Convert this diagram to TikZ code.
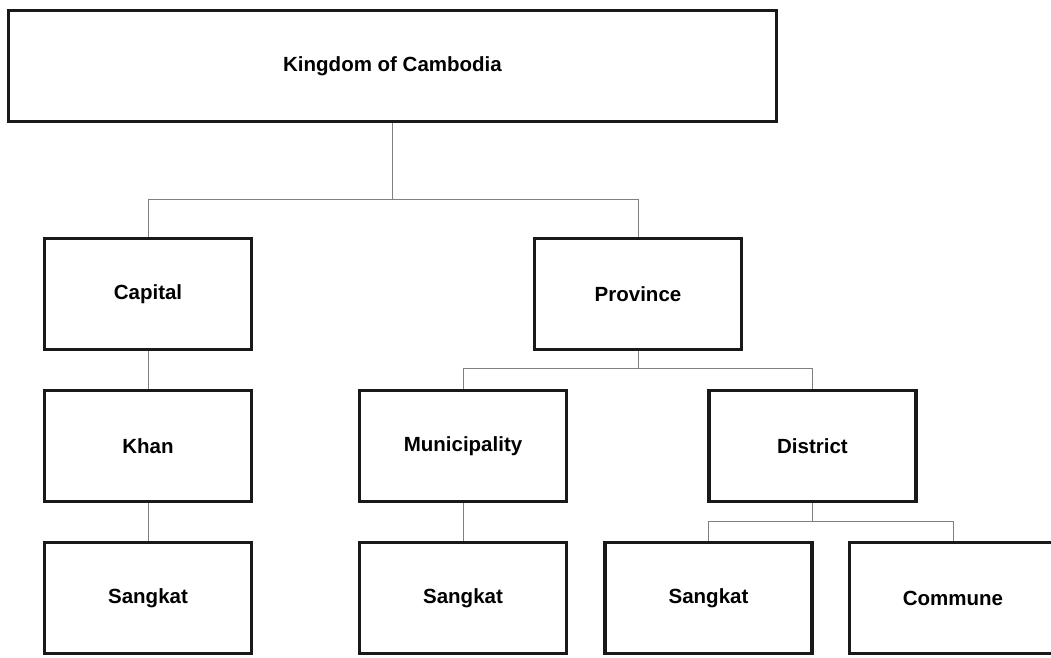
\documentclass[tikz,border=0pt]{standalone}
\usepackage{fontspec}
\setmainfont{Liberation Sans}
\usepackage{tikz}

\begin{document}
\begin{tikzpicture}[x=1pt, y=-1pt,
    unitbox/.style={draw=black!90, line width=3.4pt, minimum width=207pt,
      minimum height=111pt, inner sep=0pt, font=\bfseries\fontsize{20.5}{24}\selectfont},
    link/.style={draw=black!50, line width=1pt}]
  \fill[white] (0,0) rectangle (1051,657);
  \useasboundingbox (0,0) rectangle (1051,657);
  \clip (0,0) rectangle (1051,657);

  \node[unitbox, minimum width=768pt] (kingdom) at (392.5,66) {Kingdom of Cambodia};

  \node[unitbox] (capital)  at (148,294)   {Capital};
  \node[unitbox] (province) at (638,294)   {Province};

  \node[unitbox] (khan)     at (148,446)   {Khan};
  \node[unitbox] (muni)     at (463,446)   {Municipality};
  \node[unitbox] (district) at (812.5,446) {District};

  \node[unitbox] (sangkatA) at (148,598)   {Sangkat};
  \node[unitbox] (sangkatB) at (463,598)   {Sangkat};
  \node[unitbox] (sangkatC) at (708.5,598) {Sangkat};
  \node[unitbox] (commune)  at (953,598)   {Commune};

  \coordinate (busA) at (kingdom.south |- 0,199);
  \coordinate (busB) at (province.south |- 0,368);
  \coordinate (busC) at (district.south |- 0,521);

  \draw[link] (kingdom.south) -- (busA);
  \draw[link] (busA) -| (capital.north);
  \draw[link] (busA) -| (province.north);

  \draw[link] (capital) -- (khan);
  \draw[link] (khan) -- (sangkatA);

  \draw[link] (province.south) -- (busB);
  \draw[link] (busB) -| (muni.north);
  \draw[link] (busB) -| (district.north);
  \draw[link] (muni) -- (sangkatB);

  \draw[link] (district.south) -- (busC);
  \draw[link] (busC) -| (sangkatC.north);
  \draw[link] (busC) -| (commune.north);
\end{tikzpicture}
\end{document}
